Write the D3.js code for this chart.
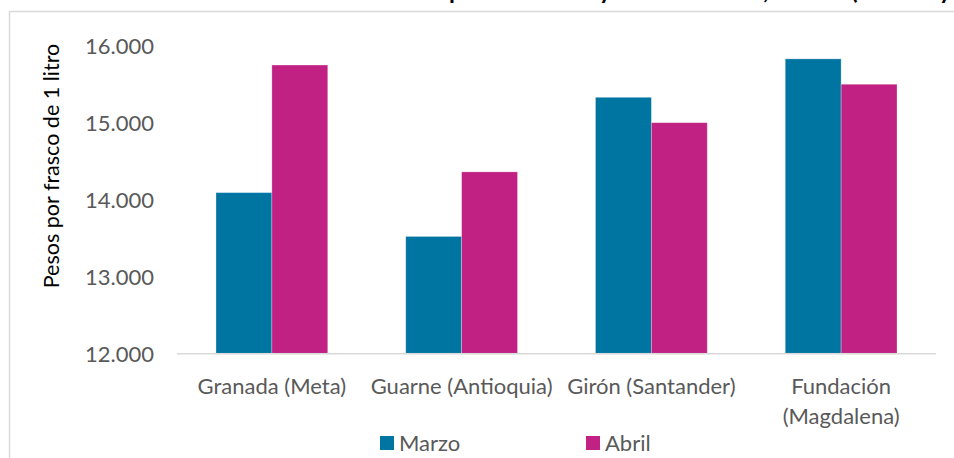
<!DOCTYPE html>
<html>
<head>
<meta charset="utf-8">
<script src="https://cdn.jsdelivr.net/npm/d3@7/dist/d3.min.js"></script>
<style>
	body { margin: 0; background: #fff; }
	svg { display: block; font-family: Lato, 'Open Sans', sans-serif; }
	.tick-label, .cat-label, .legend-text { fill: #595959; font-size: 22px; font-family: Lato, sans-serif; }
</style>
</head>
<body>
<div id="chart"></div>
<script>
var categories = ['Granada (Meta)', 'Guarne (Antioquia)', 'Girón (Santander)', 'Fundación (Magdalena)'];
var seriesNames = ['Marzo', 'Abril'];
var marzo = [14090, 13520, 15330, 15830];
var abril = [15750, 14360, 15000, 15500];
var yTicks = [12000, 13000, 14000, 15000, 16000];

var colors = ['#0075a2', '#c02182'];

var width = 954, height = 458;
var plot = {left: 177, right: 936, top: 45.8, bottom: 353.3};

var svg = d3.select('#chart')
	.append('svg')
	.attr('width', width)
	.attr('height', height);

// chart frame (cut off at the right like the original)
svg.append('rect')
	.attr('x', 9.5)
	.attr('y', 11.5)
	.attr('width', 1000)
	.attr('height', 500)
	.attr('fill', 'none')
	.attr('stroke', '#d9d9d9')
	.attr('stroke-width', 1.5);

// title, almost all of it is above the view, only descenders show
svg.append('text')
	.attr('y', -1)
	.attr('font-size', '24px')
	.attr('font-weight', 'bold')
	.attr('fill', '#000')
	.selectAll('tspan')
	.data([
		{t: 'Precio de la miel ', x: 449, a: 'end'},
		{t: 'pura en el ', x: 449, a: 'start'},
		{t: 'y abril del año', x: 599, a: 'start'},
		{t: ', total ', x: 763, a: 'start'},
		{t: '(marzo ', x: 851, a: 'start'},
		{t: 'y abril)', x: 939, a: 'start'}
	]).enter()
	.append('tspan')
	.attr('x', function(d) { return d.x; })
	.attr('text-anchor', function(d) { return d.a; })
	.text(function(d) { return d.t; });

var x0 = d3.scaleBand()
	.domain(categories)
	.range([plot.left, plot.right])
	.paddingInner(0.411)
	.paddingOuter(0.2055);

var x1 = d3.scaleBand()
	.domain(seriesNames)
	.range([0, x0.bandwidth()]);

var y = d3.scaleLinear()
	.domain([12000, 16000])
	.range([plot.bottom, plot.top]);

// y tick labels
var yAxis = d3.axisLeft(y)
	.tickValues(yTicks)
	.tickSize(0)
	.tickPadding(0)
	.tickFormat(function(v) { return d3.format(',.0f')(v).replace(/,/g, '.'); });

var yg = svg.append('g')
	.attr('transform', 'translate(154,0)')
	.call(yAxis)
	.attr('font-family', null)
	.attr('font-size', null);
yg.select('.domain').remove();
yg.selectAll('text')
	.attr('class', 'tick-label')
	.attr('fill', null)
	.attr('dy', '0.36em');

// bars
var rows = categories.map(function(c, i) {
	return {cat: c, values: [{s: 'Marzo', v: marzo[i]}, {s: 'Abril', v: abril[i]}]};
});

var groups = svg.selectAll('g.group')
	.data(rows).enter()
	.append('g')
	.attr('class', 'group')
	.attr('transform', function(d) { return 'translate(' + x0(d.cat) + ',0)'; });

groups.selectAll('rect')
	.data(function(d) { return d.values; }).enter()
	.append('rect')
	.attr('x', function(d) { return x1(d.s); })
	.attr('y', function(d) { return y(d.v); })
	.attr('width', x1.bandwidth())
	.attr('height', function(d) { return y(12000) - y(d.v); })
	.attr('fill', function(d, i) { return colors[i]; })
	.attr('stroke', 'rgba(255,255,255,0.35)')
	.attr('stroke-width', 0.8);

// baseline
svg.append('line')
	.attr('x1', plot.left)
	.attr('x2', plot.right)
	.attr('y1', y(12000) + 0.5)
	.attr('y2', y(12000) + 0.5)
	.attr('stroke', '#d9d9d9')
	.attr('stroke-width', 1.5);

// category labels, wrapped like excel does
var wraps = {
	'Fundación (Magdalena)': ['Fundación', '(Magdalena)']
};
categories.forEach(function(c) {
	var lines = wraps[c] || [c];
	var cx = x0(c) + x0.bandwidth() / 2;
	var t = svg.append('text')
		.attr('class', 'cat-label')
		.attr('text-anchor', 'middle')
		.attr('x', cx)
		.attr('y', 394);
	lines.forEach(function(l, i) {
		t.append('tspan')
			.attr('x', cx)
			.attr('dy', i === 0 ? 0 : 30)
			.text(l);
	});
});

// y axis title
svg.append('text')
	.attr('transform', 'translate(59,166) rotate(-90)')
	.attr('text-anchor', 'middle')
	.attr('font-size', '21.5px')
	.attr('fill', '#000')
	.text('Pesos por frasco de 1 litro');

// legend
var legendX = [380, 586];
var legend = svg.selectAll('g.legend')
	.data(seriesNames).enter()
	.append('g')
	.attr('class', 'legend')
	.attr('transform', function(d, i) { return 'translate(' + legendX[i] + ',436)'; });

legend.append('rect')
	.attr('width', 14)
	.attr('height', 14)
	.attr('fill', function(d, i) { return colors[i]; });

legend.append('text')
	.attr('class', 'legend-text')
	.attr('x', 19)
	.attr('y', 7)
	.attr('dy', '0.36em')
	.text(function(d) { return d; });
</script>
</body>
</html>
